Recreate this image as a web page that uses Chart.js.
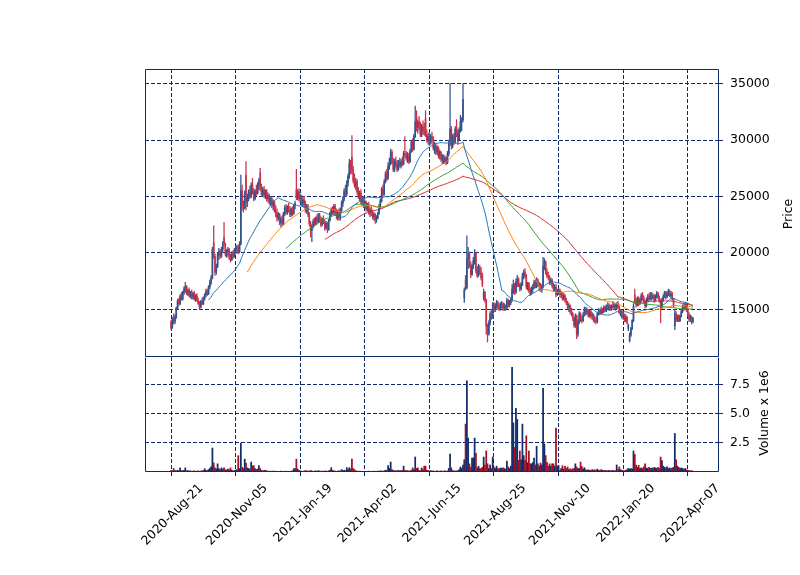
<!DOCTYPE html>
<html><head><meta charset="utf-8">
<script src="https://cdn.jsdelivr.net/npm/chart.js@4"></script>
<style>
html,body{margin:0;padding:0;background:#fff;}
#wrap{position:relative;width:800px;height:575px;font-family:"DejaVu Sans",sans-serif;overflow:hidden;}
canvas{position:absolute;left:0;top:0;}
.ylab{position:absolute;font-size:12.5px;color:#000;white-space:nowrap;transform:translate(-50%,-50%) rotate(-90deg);}
</style></head><body>
<div id="wrap">
<canvas id="vol" width="800" height="575"></canvas>
<canvas id="price" width="800" height="575"></canvas>
<div class="ylab" style="left:787px;top:214px">Price</div>
<div class="ylab" style="left:763px;top:413px">Volume x 1e6</div>
</div>
<script>
const open=[
13900,13400,14100,13900,14300,15100,15700,15500,16200,15900,
16500,16800,17000,16400,16700,16200,16500,16000,16400,15900,
16200,15800,15500,15200,15700,15500,16000,16300,16600,16400,
17000,17400,17800,20900,19700,18300,18800,19800,20100,19700,
20300,21400,20800,19900,20100,20300,19600,19400,19900,19700,
20200,20400,20500,20100,20800,25500,24200,24000,26900,24500,
25000,25400,25000,26000,25400,24800,25500,25300,26000,27100,
25700,25200,25600,25100,25400,24800,25100,24500,24800,24200,
24500,23800,23500,23100,23400,22700,23000,22600,23500,24000,
23600,24100,23800,23400,23900,23500,24200,25600,24900,25400,
24800,25000,24400,24700,24200,23800,24100,23400,22600,22000,
22300,22800,22600,23100,22800,23300,22900,22500,23000,22700,
22200,22600,22100,22900,23500,23800,23600,24100,23500,23300,
23600,23100,23800,24400,24800,25500,25200,26200,26800,27900,
28500,27400,26400,26000,26300,25400,25000,25300,24500,24800,
24200,24500,23900,24200,23600,23800,23500,23200,23400,22900,
23100,23500,24100,24600,25600,25200,26300,27000,26600,27700,
27900,28900,28100,27400,28100,27800,27400,28000,27700,28100,
27900,28800,28700,28400,28600,28100,29000,29800,29200,30300,
32000,31100,31600,31200,30500,31200,30800,31900,30500,30000,
30300,29700,30300,30100,29300,29500,28900,29300,28600,28900,
28300,28500,28100,28400,28000,28800,29700,31000,29500,30300,
29800,31000,30500,30000,30900,31600,31800,16000,17600,16900,
19500,19900,18900,18100,18800,19300,20000,18400,18000,18700,
18300,18100,16000,16500,15800,13500,12800,13800,14600,14300,
15400,15000,15300,15600,15200,15000,15400,15500,15100,15300,
15100,15800,15400,15600,15800,16800,17200,16500,17400,17700,
17200,16800,17200,17900,18300,18000,17000,17300,16700,16400,
16800,16900,17400,17000,17600,17100,17200,16700,17000,18800,
19200,18300,18000,17800,17400,17600,17100,16800,17000,16300,
16600,16700,16300,16400,16000,16200,15800,15600,15200,15300,
14800,14600,14200,13600,14400,12800,13900,14600,14100,14000,
14500,15000,14700,14900,14500,14800,14400,14500,14100,14000,
13900,14600,14900,14700,15000,14800,15200,14900,15200,15100,
15300,15000,15300,15200,15400,15100,15500,15200,14700,14800,
14300,14500,14100,14300,13300,12200,12700,13300,14000,16300,
15700,15400,15900,15500,15800,16200,16000,15700,15300,15800,
16100,15900,16300,16000,16200,15800,16100,16400,16000,15800,
15200,15800,16100,16500,16100,16400,16600,16200,16400,15900,
13500,14600,14100,14300,14000,14400,14800,15200,15100,15400,
15000,14500,14100,14300,13900];
const high=[
14000,14300,14600,14500,15200,15900,16000,16300,16500,16600,
17000,17400,17100,16800,16900,16600,16700,16500,16600,16300,
16400,16000,15700,15800,16000,16100,16400,16800,16800,17100,
17600,18000,20500,22400,19900,19000,20000,20400,20300,20500,
21000,22700,20900,20300,20500,20400,19900,20100,20200,20400,
20600,20700,20700,21000,26900,26000,24600,25500,28100,25200,
25600,25900,26200,26600,25700,25600,26000,26200,26600,27500,
26100,25800,25900,25600,25600,25300,25200,25000,24900,24700,
24600,24200,23900,23600,23500,23200,23300,23600,24200,24300,
24200,24400,24100,24000,24100,24300,24600,27400,25600,25700,
25200,25100,24900,25000,24600,24300,24300,23600,22800,22500,
23000,23100,23200,23400,23500,23500,23200,23100,23300,22900,
22800,22700,23000,23600,24000,24100,24300,24300,23900,23800,
23900,24000,24600,25000,25700,26000,26400,27000,28300,28200,
30400,27700,27000,26600,26500,25800,25500,25600,25000,25000,
24700,24600,24400,24500,24000,24100,23800,23600,23500,23300,
23600,24300,24800,25800,26000,26500,27200,27400,28000,28400,
29200,29100,28400,28300,28500,28200,28200,28400,28300,28500,
29000,30300,29000,28900,28800,29200,30000,30100,30500,33000,
32600,31800,32100,31600,31400,31700,31500,32600,30900,30600,
30700,30500,30700,30300,29800,29700,29500,29400,29100,29000,
28700,28700,28600,28500,29000,30000,35000,31200,30500,30600,
31200,31800,30900,31100,32200,32000,35000,16900,18000,21500,
20500,20100,19200,19000,19600,20300,20100,18800,19000,18900,
18700,18200,16800,16600,15900,13700,14000,14800,15000,15600,
15600,15500,15800,15700,15500,15600,15700,15600,15500,15400,
16000,15900,15800,16000,17200,17600,17300,17700,18000,17800,
17300,17400,18200,18500,18600,18100,17400,17400,16900,17000,
17200,17600,17600,17800,17700,17400,17300,17200,19600,19500,
19300,18600,18300,18000,17800,17700,17300,17200,17200,16800,
16900,16800,16600,16500,16400,16300,16000,15700,15500,15400,
15100,14700,14300,14600,14500,14100,14800,14700,14400,14700,
15200,15200,15100,15000,14900,14900,14700,14600,14400,14300,
14700,15100,15000,15200,15100,15300,15300,15400,15600,15500,
15400,15400,15700,15600,15500,15600,15700,15300,15000,14900,
14700,14600,14500,14400,13700,12900,13400,14100,15500,16800,
16000,16100,16100,16000,16400,16500,16200,15800,16000,16300,
16400,16500,16500,16400,16300,16300,16600,16500,16200,15900,
16000,16300,16600,16600,16600,16800,16700,16600,16500,16000,
15000,14800,14500,14500,14500,14900,15400,15500,15600,15500,
15100,14700,14500,14400,14300];
const low=[
13200,13300,13700,13700,14200,15000,15300,15400,15800,15800,
16300,16500,16300,16200,16100,16000,15900,15900,15800,15700,
15700,15400,15000,15100,15400,15400,15800,16100,16200,16300,
16800,17200,17700,19500,18000,18100,18700,19400,19500,19600,
20000,20600,19700,19600,19700,19400,19200,19300,19500,19600,
19900,20000,19900,20000,20700,23800,23600,23900,23800,24100,
24600,24800,24900,25200,24600,24700,25100,25200,25600,25500,
25000,25000,24900,24800,24600,24500,24300,24200,24000,23800,
23600,23200,22800,22900,22500,22300,22400,22500,23300,23400,
23400,23600,23200,23200,23300,23400,23900,24700,24700,24600,
24400,24200,24100,24000,23600,23500,23200,22400,21400,21000,
22200,22400,22500,22600,22700,22700,22300,22400,22600,22000,
22100,21800,22000,22800,23200,23400,23500,23300,23000,22900,
22900,22900,23600,24100,24600,25000,25100,25900,26600,27000,
27000,26200,25800,25600,25200,24800,24600,24300,24200,24000,
24000,23700,23700,23400,23200,23300,23000,22900,22600,22700,
23000,23400,23900,24500,25000,25100,26200,26400,26500,27400,
27800,27900,27200,27200,27600,27200,27300,27600,27500,27700,
27800,28500,28200,28000,27900,28000,28900,29000,29100,30200,
30800,30600,30900,30300,30300,30500,30400,30300,29800,29600,
29500,29600,29900,29100,28800,28700,28700,28400,28300,28100,
27900,27900,27900,27800,27900,28600,29500,29200,29300,29600,
29700,30300,29600,29900,30700,30800,31600,15600,16700,16800,
18600,18700,17800,18000,18600,19000,18200,17800,17900,18100,
17600,17000,15800,15600,12800,12100,12700,13600,14100,14200,
14800,14800,15100,15000,14900,14900,15100,14900,14900,14900,
15000,15200,15200,15400,15700,16400,16300,16400,17000,17000,
16600,16700,17100,17700,17800,16800,16700,16500,16200,16300,
16500,16800,16900,16900,17000,16700,16600,16500,16900,18500,
18100,17800,17600,17200,17200,16900,16600,16600,16100,16200,
16300,16100,16000,15800,15800,15600,15400,15000,14800,14600,
14400,14000,13400,13400,12400,12600,13700,13900,13800,13900,
14400,14500,14500,14300,14300,14200,14100,13900,13800,13700,
13800,14500,14500,14600,14600,14700,14800,14800,15000,14900,
14900,14900,15100,15000,14900,15000,15100,14600,14400,14200,
14100,13900,13900,13700,13100,12100,12600,13200,13900,15500,
15200,15300,15300,15400,15700,15800,15500,15100,15200,15700,
15700,15800,15800,15900,15600,15700,16000,15900,15600,13800,
15100,15700,16000,15900,16000,16200,16100,16000,15800,15200,
13200,13900,13900,13900,13900,14300,14700,14900,15000,14800,
14400,13900,13900,13700,13800];
const close=[
13400,14100,13900,14300,15100,15700,15500,16200,15900,16500,
16800,17000,16400,16700,16200,16500,16000,16400,15900,16200,
15800,15500,15200,15700,15500,16000,16300,16600,16400,17000,
17400,17800,20300,19700,18300,18800,19800,20100,19700,20300,
20700,20800,19900,20100,20300,19600,19400,19900,19700,20200,
20400,20500,20100,20800,25500,24200,24000,25300,24500,25000,
25400,25000,26000,25400,24800,25500,25300,26000,26400,25700,
25200,25600,25100,25400,24800,25100,24500,24800,24200,24500,
23800,23500,23100,23400,22700,23000,22600,23500,24000,23600,
24100,23800,23400,23900,23500,24200,24400,24900,25400,24800,
25000,24400,24700,24200,23800,24100,23400,22600,22000,22300,
22800,22600,23100,22800,23300,22900,22500,23000,22700,22200,
22600,22100,22900,23500,23800,23600,24100,23500,23300,23600,
23100,23800,24400,24800,25500,25200,26200,26800,27900,27200,
27400,26400,26000,26300,25400,25000,25300,24500,24800,24200,
24500,23900,24200,23600,23800,23500,23200,23400,22900,23100,
23500,24100,24600,25600,25200,26300,27000,26600,27700,27900,
28900,28100,27400,28100,27800,27400,28000,27700,28100,27900,
28800,28700,28400,28600,28100,29000,29800,29200,30300,31600,
31100,31600,31200,30500,31200,30800,30600,30500,30000,30300,
29700,30300,30100,29300,29500,28900,29300,28600,28900,28300,
28500,28100,28400,28000,28800,29700,31000,29500,30300,29800,
31000,30500,30000,30900,31600,31800,33600,16700,16900,19500,
19900,18900,18100,18800,19300,20000,18400,18000,18700,18300,
17800,17200,16500,15800,13500,12800,13800,14600,14300,15400,
15000,15300,15600,15200,15000,15400,15500,15100,15300,15100,
15800,15400,15600,15800,16800,17200,16500,17400,17700,17200,
16800,17200,17900,18300,18000,17000,17300,16700,16400,16800,
16900,17400,17000,17600,17100,17200,16700,17000,18800,19200,
18300,18000,17800,17400,17600,17100,16800,17000,16300,16600,
16700,16300,16400,16000,16200,15800,15600,15200,15300,14800,
14600,14200,13600,14400,12800,13900,14600,14100,14000,14500,
15000,14700,14900,14500,14800,14400,14500,14100,14000,13900,
14600,14900,14700,15000,14800,15200,14900,15200,15100,15300,
15000,15300,15200,15400,15100,15500,15200,14700,14800,14300,
14500,14100,14300,13800,13600,12700,13300,14000,15300,15700,
15400,15900,15500,15800,16200,16000,15700,15300,15800,16100,
15900,16300,16000,16200,15800,16100,16400,16000,15800,15200,
15800,16100,16500,16100,16400,16600,16200,16400,15900,15300,
14600,14100,14300,14000,14400,14800,15200,15100,15400,15000,
14500,14100,14300,13900,14200];
// volume, in millions of shares
const volume=[
.15,.1,.3,.12,.1,.15,.12,.35,.1,.12,
.15,.35,.1,.12,.08,.1,.06,.08,.1,.06,
.08,.1,.06,.08,.1,.12,.28,.15,.12,.2,
.3,.45,2.05,.77,.35,.25,.7,.3,.2,.35,
.25,.35,.2,.15,.26,.2,.35,.15,.1,.12,
.15,.2,1.4,.3,2.47,.4,.3,1.1,.77,.35,
.3,.25,.85,.54,.54,.3,.2,.25,.54,.3,
.15,.1,.12,.15,.1,.08,.06,.08,.06,.08,
.06,.08,.06,.05,.06,.08,.06,.05,.06,.08,
.06,.05,.06,.08,.1,.28,.3,1.1,.25,.15,
.1,.08,.06,.08,.12,.1,.08,.06,.15,.08,
.06,.08,.1,.06,.12,.08,.06,.08,.06,.1,
.08,.06,.1,.15,.37,.15,.1,.08,.06,.08,
.1,.08,.2,.12,.15,.1,.37,.2,.37,.25,
1.1,.3,.2,.1,.08,.06,.08,.06,.05,.06,
.05,.06,.05,.08,.06,.05,.06,.08,.05,.06,
.08,.06,.1,.08,.06,.1,.15,.12,.54,.3,
.85,.2,.15,.1,.12,.08,.15,.1,.12,.12,
.5,.15,.1,.12,.08,.1,.15,.35,.2,1.28,
.3,.35,.15,.1,.35,.2,.5,.5,.15,.12,
.1,.12,.08,.1,.06,.08,.1,.06,.08,.1,
.06,.08,.1,.06,.1,.3,1.53,.35,.12,.1,
.08,.1,.12,.2,.43,.3,.6,1.05,4.1,7.8,
2.9,.7,.4,1.2,1.2,2.9,1.6,.35,.5,.3,
.3,.4,1.28,.6,1.8,.7,.3,.6,.3,1.28,
.43,.3,.5,.3,.25,.35,.3,.35,.3,.25,
.94,.43,.3,.5,8.95,4.2,2.1,5.45,4.5,1.0,
1.8,1.05,4.1,1.4,1.0,3.1,.8,1.8,.7,.7,
.8,1.2,.6,2.2,.7,.5,.77,.6,7.15,2.4,
1.4,.82,.5,.7,.5,.7,.7,.5,3.75,.5,
.54,.14,.3,.54,.25,.48,.3,.43,.2,.28,
.2,.28,.3,.7,.43,.3,.3,.85,.48,.25,
.37,.2,.15,.2,.15,.12,.2,.15,.2,.12,
.25,.15,.12,.2,.15,.12,.15,.1,.12,.15,
.1,.12,.15,.1,.12,.6,.2,.43,.2,.15,
.12,.1,.15,.2,.3,.25,.3,.25,1.8,1.5,
.6,.4,.57,.3,.35,.3,.45,.7,.35,.3,
.4,.3,.35,.3,.4,.35,.3,.4,.3,1.28,
.97,.5,.4,.35,.45,.3,.35,.3,.35,.4,
3.3,1.05,.5,.4,.3,.35,.3,.25,.3,.2,
.15,.12,.1,.12,.08];
const tickIndex=[0,50,100,150,200,250,300,350,400];
const tickLabels=['2020-Aug-21','2020-Nov-05','2021-Jan-19','2021-Apr-02','2021-Jun-15','2021-Aug-25','2021-Nov-10','2022-Jan-20','2022-Apr-07'];
const priceTicks=[15000,20000,25000,30000,35000];
const volumeTicks=[2.5,5,7.5];
const mavPeriods=[30,60,90,120];

const mavColors=['#1f77b4','#ff7f0e','#2ca02c','#d62728'];
const NAVY='#10296a';
const UPC='#33528f', DNC='#c83349';
const VUP='#122d68', VDN='#a80f22';
const XMIN=-20.2, XMAX=424.2, YMIN=10774, YMAX=36294, VMAX=9.84;
Chart.defaults.font.family='"DejaVu Sans", sans-serif';
Chart.defaults.color='#000';

const n=close.length;
const idx=close.map((_,i)=>i);
const up=idx.map(i=>close[i]>=open[i]);
function sma(p){const out=[];let s=0;for(let i=0;i<n;i++){s+=close[i];if(i>=p)s-=close[i-p];if(i>=p-1)out.push({x:i,y:s/p});}return out;}
function frame(sides){return {id:'frame',afterDraw(c){const a=c.chartArea,ctx=c.ctx;
  const L=Math.round(a.left)+0.5,R=Math.round(a.right)-0.5,T=Math.round(a.top)+0.5,B=Math.round(a.bottom)-0.5;
  ctx.save();ctx.strokeStyle=NAVY;ctx.lineWidth=1;ctx.beginPath();
  if(sides.includes('t')){ctx.moveTo(L,T);ctx.lineTo(R,T);}
  if(sides.includes('b')){ctx.moveTo(L,B);ctx.lineTo(R,B);}
  if(sides.includes('l')){ctx.moveTo(L,T);ctx.lineTo(L,B);}
  if(sides.includes('r')){ctx.moveTo(R,T);ctx.lineTo(R,B);}
  ctx.stroke();ctx.restore();}};}
const setTicks=arr=>s=>{s.ticks=arr.map(v=>({value:v}));};
const base={responsive:false,animation:false,events:[],devicePixelRatio:1,
  plugins:{legend:{display:false},tooltip:{enabled:false}}};

new Chart(document.getElementById('price'),{
  type:'bar',
  data:{datasets:[
    ...mavPeriods.map((p,k)=>({type:'line',data:sma(p),borderColor:mavColors[k],borderWidth:1,pointRadius:0,tension:0,fill:false,order:0})),
    {type:'bar',data:idx.map(i=>({x:i,y:[open[i],close[i]]})),backgroundColor:idx.map(i=>up[i]?UPC:DNC),barThickness:1,minBarLength:1,grouped:false,order:1},
    {type:'bar',data:idx.map(i=>({x:i,y:[low[i],high[i]]})),backgroundColor:idx.map(i=>up[i]?UPC:DNC),barThickness:0.6,grouped:false,order:2}
  ]},
  options:{...base,
    layout:{padding:{left:145,top:69,right:0,bottom:0},autoPadding:false},
    scales:{
      x:{type:'linear',min:XMIN,max:XMAX,offset:false,afterBuildTicks:setTicks(tickIndex),
         ticks:{display:false},grid:{color:NAVY,lineWidth:1,drawTicks:false,offset:false},border:{display:false,dash:[4,2]},
         afterFit:s=>{s.height=575-357;}},
      y:{position:'right',min:YMIN,max:YMAX,afterBuildTicks:setTicks(priceTicks),
         ticks:{color:'#000',font:{size:12.5},padding:7,callback:v=>String(v)},
         grid:{color:NAVY,lineWidth:1,tickLength:4},border:{display:false,dash:[4,2]},
         afterFit:s=>{s.width=81;}}
    }},
  plugins:[frame('tblr')]
});

new Chart(document.getElementById('vol'),{
  type:'bar',
  data:{datasets:[
    {data:idx.map(i=>({x:i,y:volume[i]})),backgroundColor:idx.map(i=>up[i]?VUP:VDN),barThickness:1.1,grouped:false}
  ]},
  options:{...base,
    layout:{padding:{left:145,top:357,right:0,bottom:0},autoPadding:false},
    scales:{
      x:{type:'linear',min:XMIN,max:XMAX,offset:false,afterBuildTicks:setTicks(tickIndex),
         ticks:{autoSkip:false,minRotation:45,maxRotation:45,color:'#000',font:{size:12.5},padding:5,labelOffset:30,
           callback:v=>{const k=tickIndex.indexOf(v);return k>=0?tickLabels[k]:'';}},
         grid:{color:NAVY,lineWidth:1,tickLength:4,offset:false},border:{display:false,dash:[4,2]},
         afterFit:s=>{s.height=575-472;}},
      y:{position:'right',min:0,max:VMAX,afterBuildTicks:setTicks(volumeTicks),
         ticks:{color:'#000',font:{size:12.5},padding:7,callback:v=>v.toFixed(1)},
         grid:{color:NAVY,lineWidth:1,tickLength:4},border:{display:false,dash:[4,2]},
         afterFit:s=>{s.width=81;}}
    }},
  plugins:[frame('blr')]
});
</script>
</body></html>
